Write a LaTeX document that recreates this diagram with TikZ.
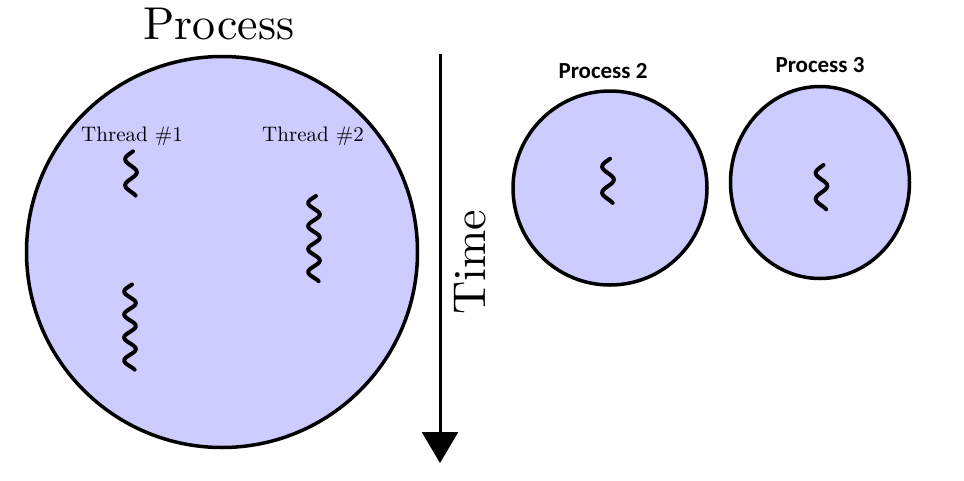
\documentclass[tikz,border=0pt]{standalone}
\usepackage{fontspec}
\usepackage{tikz}
\usetikzlibrary{positioning, arrows.meta, calc, shapes.geometric}
\newfontfamily\labelfont{Carlito}
\newfontfamily\cmfont[Extension=.otf]{lmroman10-regular}
\definecolor{Proc_Fill}{HTML}{CCCCFF}

% one thread: x, top y, end angle, half wave length
\newcommand{\threadline}[4]{%
  \draw[thread] plot[domain=-20:#3, samples=80, smooth, variable=\t]
    ({#1-5.8*sin(\t)}, {#2+(\t+20)*#4/180});}

\begin{document}
\begin{tikzpicture}[
  x=1pt, y=-1pt,
  proc/.style={draw, line width=3.5pt, fill=Proc_Fill, inner sep=0pt},
  bigtext/.style={font=\cmfont\fontsize{46}{50}\selectfont, inner sep=0pt},
  thrtext/.style={font=\cmfont\fontsize{21}{24}\selectfont, inner sep=0pt},
  ptext/.style={font=\labelfont\bfseries\fontsize{23}{26}\selectfont, inner sep=0pt},
  thread/.style={line width=4pt, line cap=round},
  arr/.style={-{Triangle[length=31pt, width=36pt]}, line width=3pt}
]
  \useasboundingbox (0,0) rectangle (964,480);

  % Main process
  \node[proc, circle, minimum size=391pt] (p1) at (222,252) {};
  \node[bigtext, anchor=base] (ptitle) at ([xshift=-3pt, yshift=15pt]p1.north) {Process};
  \node[thrtext, anchor=base] (thr1) at ([xshift=-90pt, yshift=111pt]p1.center) {Thread \#1};
  \node[thrtext, anchor=base] (thr2) at ([xshift=91pt, yshift=111pt]p1.center) {Thread \#2};

  % Threads
  \threadline{131}{151.3}{593}{13}
  \threadline{130}{284.5}{1313}{11.5}
  \threadline{314}{196}{1313}{11.5}

  % Time axis
  \coordinate (tstart) at (440,54);
  \coordinate (tend) at (440,463);
  \draw[arr] (tstart) -- (tend);
  \node[bigtext, rotate=90, anchor=base] (time) at (485,262.5) {Time};

  % Other processes
  \node[proc, circle, minimum size=194pt] (p2) at (610,188) {};
  \node[proc, ellipse, minimum width=179pt, minimum height=192pt] (p3) at (820,182.5) {};
  \node[ptext, anchor=base] (p2lbl) at ([xshift=-7pt, yshift=11pt]p2.north) {Process 2};
  \node[ptext, anchor=base] (p3lbl) at ([yshift=12pt]p3.north) {Process 3};
  \threadline{608}{158.7}{593}{13}
  \threadline{821.5}{165}{593}{13}
\end{tikzpicture}
\end{document}
